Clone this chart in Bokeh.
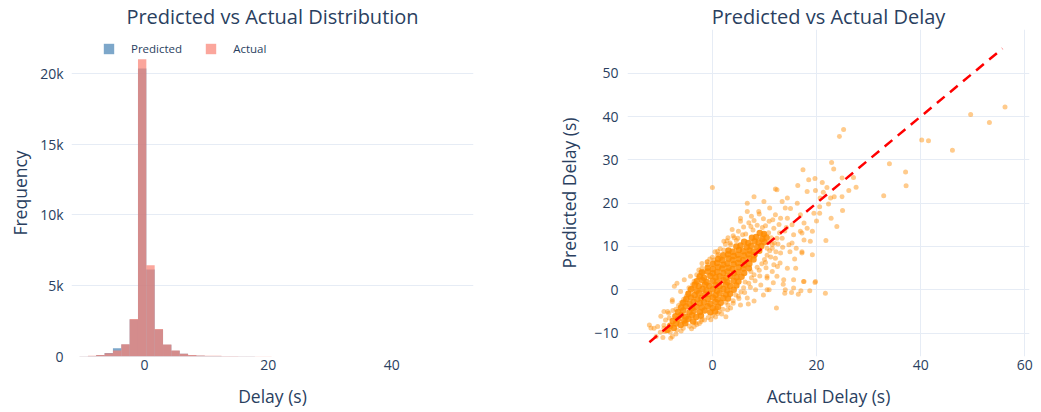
import numpy as np
from bokeh.plotting import figure
from bokeh.layouts import row
from bokeh.models import (Range1d, FixedTicker, CustomJSTickFormatter, Legend,
                          LegendItem)
from bokeh.embed import file_html
from bokeh.resources import INLINE

# ---------------- data: histogram (Delay, s) ----------------
bin_start = -11.85
bin_width = 1.35
actual_counts = [8, 20, 45, 110, 230, 430, 860, 2650, 21000, 6450, 1950, 850,
                 420, 200, 110, 75, 55, 45, 40, 30, 18, 14, 12, 10, 8, 6, 5, 4,
                 3, 2, 1, 0, 1, 2, 1, 1, 1, 0, 2, 2, 0, 0, 1, 0, 0, 1, 0, 1, 1]
predicted_counts = [5, 15, 40, 100, 240, 580, 850, 2620, 20350, 6150, 1900, 830,
                    400, 190, 95, 60, 40, 30, 25, 15, 12, 10, 8, 7, 5, 4, 4, 3,
                    3, 3, 3, 1, 2, 1, 2, 2, 2, 1, 1, 1, 0, 0, 0, 0, 0, 0, 0, 0, 0]

# ---------------- data: scatter (Actual vs Predicted delay, s) ----------------
core_actual = [
    -8.6, -7.4,
    -8.1, -7.0, -6.1, -5.2,
    -7.6, -6.6, -5.4, -4.6, -3.7,
    -7.1, -6.0, -5.1, -3.9, -3.1, -2.2,
    -6.6, -5.6, -4.4, -3.6, -2.4, -1.5, -0.4, 0.5,
    -6.0, -5.1, -3.9, -3.1, -2.0, -0.9, 0.1, 1.1,
    -5.6, -4.4, -3.6, -2.4, -1.6, -0.4, 0.6, 1.6,
    -5.0, -4.1, -2.9, -2.1, -0.9, 0.1, 1.0, 2.1, 3.0,
    -4.6, -3.4, -2.6, -1.4, -0.6, 0.6, 1.4, 2.6, 3.4,
    -4.1, -3.0, -1.9, -1.1, 0.1, 0.9, 2.1, 2.9, 4.1,
    -3.4, -2.6, -1.4, -0.6, 0.6, 1.4, 2.6, 3.4, 4.6,
    -3.0, -1.9, -1.1, 0.1, 0.9, 2.1, 2.9, 4.1, 5.0,
    -2.4, -1.6, -0.4, 0.6, 1.4, 2.6, 3.4, 4.6, 5.6,
    -2.0, -0.9, 0.1, 0.9, 2.1, 2.9, 4.1, 4.9, 6.1,
    -0.9, 0.1, 1.1, 1.9, 3.1, 3.9, 5.1, 5.9, 7.0,
    0.1, 0.9, 2.1, 2.9, 4.1, 4.9, 6.1, 7.1,
    1.1, 1.9, 3.1, 3.9, 5.1, 5.9, 7.1, 7.9,
    2.1, 3.0, 4.1, 4.9, 6.1, 6.9, 8.0,
    3.1, 3.9, 5.1, 5.9, 7.1, 7.9, 9.0,
    4.6, 5.4, 6.6, 7.4, 8.6, 9.4,
    6.1, 6.9, 8.1, 8.9, 10.0,
    7.6, 8.4, 9.6, 10.4,
    9.1, 9.9,
]
core_predicted = [
    -9.2, -8.8,
    -8.3, -7.8, -8.1, -7.7,
    -7.2, -6.8, -7.1, -6.7, -7.3,
    -6.1, -5.8, -6.2, -5.9, -6.3, -6.0,
    -5.1, -4.8, -5.2, -4.9, -5.1, -4.8, -5.2, -5.0,
    -4.1, -3.8, -4.2, -3.9, -4.1, -3.8, -4.2, -3.9,
    -3.0, -3.2, -2.8, -3.1, -2.9, -3.2, -2.8, -3.0,
    -2.1, -1.8, -2.2, -1.9, -2.1, -1.8, -2.2, -1.9, -2.0,
    -0.9, -1.2, -0.8, -1.1, -0.9, -1.2, -0.8, -1.1, -0.9,
    0.1, -0.2, 0.2, -0.1, 0.1, -0.2, 0.2, -0.1, 0.0,
    1.1, 0.8, 1.2, 0.9, 1.1, 0.8, 1.2, 0.9, 1.0,
    2.0, 2.2, 1.8, 2.1, 1.9, 2.2, 1.8, 2.1, 1.9,
    3.1, 2.8, 3.2, 2.9, 3.1, 2.8, 3.2, 2.9, 3.0,
    4.0, 4.2, 3.8, 4.1, 3.9, 4.2, 3.8, 4.1, 3.9,
    5.1, 4.8, 5.2, 4.9, 5.1, 4.8, 5.2, 4.9, 5.0,
    6.0, 6.2, 5.8, 6.1, 5.9, 6.2, 5.8, 6.0,
    7.1, 6.8, 7.2, 6.9, 7.1, 6.8, 7.2, 7.0,
    8.0, 8.2, 7.8, 8.1, 7.9, 8.2, 8.0,
    9.1, 8.8, 9.2, 8.9, 9.1, 8.8, 9.0,
    10.0, 10.2, 9.8, 10.1, 9.9, 10.1,
    11.1, 10.8, 11.2, 10.9, 11.0,
    12.0, 12.2, 11.8, 12.1,
    13.1, 12.9,
]

spread_points = [
    (6.7, 20.0), (8.9, 18.1), (12.1, 17.3), (5.4, 15.8), (7.4, 14.6), (3.8, 13.9),
    (10.9, 15.8), (9.9, 12.7), (2.2, 11.2), (1.0, 8.9), (3.5, 10.4), (-1.0, 6.5),
    (-2.6, 4.6), (-2.0, 6.1), (-4.2, 3.1), (-5.4, 2.3), (-7.3, 0.8), (-6.1, -0.4),
    (-7.7, -2.7), (-9.3, -5.0), (-8.3, -6.5), (-9.9, -6.1), (-11.2, -8.9),
    (-12.1, -8.1), (-9.3, -8.9), (11.8, 5.8), (10.5, 3.1), (10.9, 0.0), (12.3, -4.2),
    (8.3, 0.0), (9.3, 1.1), (6.7, -1.9), (5.4, -3.5), (3.5, -4.2), (2.6, -6.2),
    (1.3, -5.0), (-0.3, -6.9), (-2.2, -7.3), (-3.5, -8.5), (7.4, 4.2), (11.5, 9.6),
    (12.4, 11.9), (8.3, 8.1), (1.6, 7.3), (4.2, 12.0),
    (0.0, 23.6), (8.0, 21.5), (9.9, 20.4), (12.1, 23.3), (6.7, 18.1), (5.4, 16.5),
    (14.4, 16.5), (15.0, 18.8), (13.4, 20.4), (16.9, 13.5), (18.8, 11.2),
    (17.2, 8.8), (16.0, 5.0), (17.6, 1.9), (19.8, 1.9), (14.0, 0.0), (13.7, 2.3),
    (-7.7, -2.3), (-8.6, -5.0), (-11.8, -8.8), (-10.8, -10.8), (-7.7, -10.8),
    (-9.2, -9.6), (-6.8, 1.5),
    (12.4, 23.1), (14.4, 21.2), (14.0, 18.9), (13.1, 16.5), (15.3, 15.0),
    (11.8, 14.2), (16.3, 20.0), (18.2, 22.7), (16.9, 17.3), (17.6, 15.4),
    (13.4, 11.9), (15.6, 12.7), (10.5, 9.6), (14.7, 10.4), (12.1, 7.3),
    (17.2, 8.5), (11.5, 4.2), (14.4, 5.0), (10.5, 2.7), (12.4, 3.1),
    (56.2, 42.2), (53.2, 38.6), (49.6, 40.5), (46.1, 32.2), (40.2, 34.6),
    (41.5, 34.4), (37.1, 27.2), (37.2, 24.0), (34.0, 29.1), (32.9, 21.7),
    (25.2, 37.0), (24.4, 35.4), (22.9, 29.4), (23.3, 27.9), (27.1, 25.9),
    (27.6, 23.7), (26.2, 22.9), (24.9, 21.5), (24.9, 25.8), (23.4, 21.5),
    (22.7, 21.2), (25.0, 18.3), (22.8, 16.5), (23.9, 14.6), (21.8, 11.4),
    (21.1, 24.8), (22.0, 23.6), (21.3, 22.5), (22.3, 19.8), (19.7, 25.7),
    (17.4, 27.7), (18.5, 25.4), (16.4, 24.1), (19.8, 22.9), (20.7, 21.2),
    (20.6, 17.7), (19.5, 17.7), (20.0, 15.9), (20.6, 19.2), (19.2, 8.1),
    (19.7, 1.7), (21.7, -0.8), (17.5, 1.9), (18.7, -0.2), (15.6, 2.3),
    (17.0, -0.2), (13.9, -0.8), (10.5, 0.0), (15.6, 0.4), (13.6, 1.3),
    (12.5, 5.4), (13.1, 8.5), (15.3, 10.8), (14.9, 8.8), (17.2, 13.1),
    (17.6, 11.5), (18.2, 14.2), (19.2, 13.5),
    (-7.0, -4.5), (-6.0, -3.0), (-5.0, -1.5), (-4.5, 0.5), (-3.5, 2.0), (-3.0, 3.5),
    (-2.0, 5.0), (-1.0, 6.5), (0.0, 7.5), (0.5, 8.8), (1.5, 9.5), (2.5, 10.5),
    (3.0, 12.0), (4.0, 12.5), (5.0, 13.5), (6.0, 14.5), (7.0, 15.5), (7.5, 17.0),
    (8.0, 16.0), (9.0, 17.5), (-5.5, -2.2), (-3.8, 1.2), (-2.2, 4.1), (-0.5, 7.1),
    (1.2, 8.2), (2.8, 11.3), (4.6, 11.4), (5.8, 12.7),
    (-4.0, -9.0), (-3.0, -8.0), (-1.5, -7.0), (0.0, -6.0), (1.0, -5.5), (2.0, -4.5),
    (3.0, -3.5), (4.0, -2.5), (5.0, -1.5), (5.5, -0.5), (6.0, 0.5), (7.0, 1.5),
    (7.5, 2.8), (8.0, 3.5), (9.0, 4.5), (9.5, 6.0), (10.0, 7.0), (10.5, 8.0),
    (11.0, 9.0), (11.5, 10.5), (-2.5, -7.8), (0.8, -4.2), (2.6, -2.9), (4.5, -1.2),
    (6.3, 1.8), (8.6, 5.2), (10.2, 6.3), (12.2, 8.8),
    (-9.0, -7.0), (-8.8, -9.5), (-10.0, -9.8), (-9.5, -11.0), (-7.0, -10.2),
    (-6.0, -9.5), (-10.5, -8.5), (-8.0, -11.2),
    (-6.5, -3.6), (-5.2, -2.6), (-4.6, -0.7), (-3.9, 0.3), (-3.2, 1.6), (-2.7, 2.8),
    (-1.7, 4.2), (-0.9, 5.8), (0.3, 6.9), (1.0, 8.0), (2.2, 9.2), (3.4, 10.8),
    (4.9, 11.9), (6.4, 12.9), (7.8, 13.8), (9.6, 14.4), (10.8, 13.2), (11.3, 12.0),
    (11.9, 10.8), (11.2, 7.6), (10.3, 5.1), (9.1, 3.2), (8.2, 2.1), (7.3, 0.6),
    (6.2, -0.6), (5.1, -2.0), (4.0, -3.1), (2.9, -4.6), (1.8, -5.6), (0.6, -6.3),
    (-0.8, -6.4), (-2.0, -6.9), (-3.2, -7.6), (-4.4, -8.4), (-5.6, -8.9),
    (-6.8, -9.3), (-8.1, -9.8), (-9.3, -8.2), (-8.4, -5.4), (-7.6, -4.8),
    (9.5, 11.5), (10.2, 14.8), (11.6, 16.2), (12.8, 15.1), (13.9, 13.6),
    (12.9, 13.2), (14.2, 14.4), (11.0, 18.9), (9.8, 16.4), (8.6, 14.9),
    (13.5, 9.8), (12.6, 10.6), (10.9, 11.0), (16.1, 9.6), (15.8, 7.1),
    (13.0, 6.2), (11.7, 1.6), (9.8, -1.2), (8.0, -2.6), (6.9, -3.3),
    (15.2, -0.6), (16.5, -1.0),
]
spread_actual = [p[0] for p in spread_points]
spread_predicted = [p[1] for p in spread_points]

# perfect-prediction reference line (min / max of actual delay)
ideal_line = [-12.1, 55.7]

# tick values
hist_xticks = [0, 20, 40]
hist_yticks = [0, 5000, 10000, 15000, 20000]
sc_xticks = [0, 20, 40, 60]
sc_yticks = [-10, 0, 10, 20, 30, 40, 50]

# ---------------- styling ----------------
FONT = "Open Sans"
TXT = "#2a3f5f"
GRID = "#E6ECF5"


def style_fig(p, title):
    p.outline_line_color = None
    p.title.text = title
    p.title.align = "center"
    p.title.text_font = FONT
    p.title.text_font_size = "20px"
    p.title.text_font_style = "normal"
    p.title.text_color = TXT
    p.title.standoff = 0
    p.title.offset = 0
    for ax in (p.xaxis[0], p.yaxis[0]):
        ax.axis_line_color = None
        ax.major_tick_line_color = None
        ax.minor_tick_line_color = None
        ax.major_label_text_font = FONT
        ax.major_label_text_font_size = "14px"
        ax.major_label_text_color = TXT
        ax.axis_label_text_font = FONT
        ax.axis_label_text_font_size = "17.5px"
        ax.axis_label_text_font_style = "normal"
        ax.axis_label_text_color = TXT
    p.xaxis[0].major_label_standoff = -3
    p.xaxis[0].axis_label_standoff = 11


# ---------------- left: histogram ----------------
p1 = figure(width=520, height=411, output_backend="svg", toolbar_location=None,
            x_range=Range1d(-11.8, 53.2), y_range=Range1d(0, 23100),
            min_border_left=71, min_border_right=47, min_border_top=28,
            min_border_bottom=55)
style_fig(p1, "Predicted vs Actual Distribution")
p1.xgrid.visible = False
p1.ygrid.grid_line_color = GRID
p1.ygrid.grid_line_width = 1

nb = len(actual_counts)
lefts = bin_start + bin_width * np.arange(nb)
rights = lefts + bin_width

r_pred = p1.quad(left=lefts, right=rights, bottom=0, top=predicted_counts,
                 fill_color="#4682B4", fill_alpha=0.7, line_color=None)
r_act = p1.quad(left=lefts, right=rights, bottom=0, top=actual_counts,
                fill_color="#FA8072", fill_alpha=0.7, line_color=None)

p1.xaxis[0].ticker = FixedTicker(ticks=hist_xticks)
p1.yaxis[0].ticker = FixedTicker(ticks=hist_yticks)
p1.yaxis[0].formatter = CustomJSTickFormatter(
    code="return tick == 0 ? '0' : (tick / 1000) + 'k';")
p1.xaxis[0].axis_label = "Delay (s)"
p1.yaxis[0].axis_label = "Frequency"
p1.yaxis[0].major_label_standoff = 2
p1.yaxis[0].axis_label_standoff = 5

legend = Legend(items=[LegendItem(label="Predicted", renderers=[r_pred]),
                       LegendItem(label="Actual", renderers=[r_act])],
                orientation="horizontal", location=(31, 300),
                glyph_width=13, glyph_height=13, label_height=13, label_width=10,
                label_standoff=16, spacing=22, padding=0, margin=0,
                border_line_color=None, background_fill_alpha=0,
                label_text_font=FONT, label_text_font_size="11.5px",
                label_text_color=TXT)
p1.add_layout(legend)

# ---------------- right: scatter ----------------
p2 = figure(width=521, height=411, output_backend="svg", toolbar_location=None,
            x_range=Range1d(-16.3, 60.9), y_range=Range1d(-15.4, 60.1),
            min_border_left=107, min_border_right=12, min_border_top=28,
            min_border_bottom=55)
style_fig(p2, "Predicted vs Actual Delay")
p2.xgrid.grid_line_color = GRID
p2.ygrid.grid_line_color = GRID
p2.xaxis[0].ticker = FixedTicker(ticks=sc_xticks)
p2.yaxis[0].ticker = FixedTicker(ticks=sc_yticks)
p2.yaxis[0].formatter = CustomJSTickFormatter(
    code="return tick < 0 ? '\u2212' + Math.abs(tick) : String(tick);")
p2.xaxis[0].axis_label = "Actual Delay (s)"
p2.yaxis[0].axis_label = "Predicted Delay (s)"
p2.yaxis[0].major_label_standoff = 3
p2.yaxis[0].axis_label_standoff = 10

p2.scatter(spread_actual, spread_predicted, size=5, fill_color="#FF8C00",
           fill_alpha=0.45, line_color=None)
p2.scatter(core_actual, core_predicted, size=6.5, fill_color="#FF8C00",
           fill_alpha=0.85, line_color=None)
p2.line(ideal_line, ideal_line, line_color="red", line_width=2.5,
        line_dash="10 7")

layout = row(p1, p2)
open("out.html", "w").write(file_html(layout, INLINE))
